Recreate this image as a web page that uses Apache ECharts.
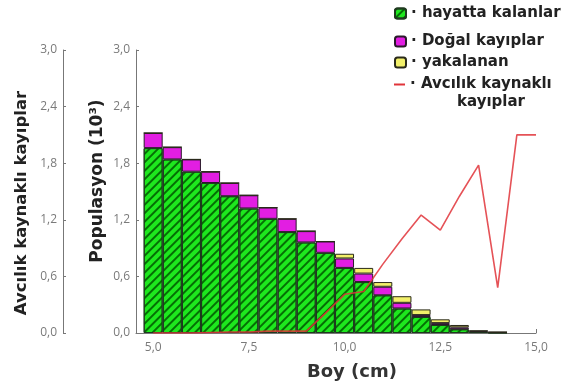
<!DOCTYPE html>
<html><head><meta charset="utf-8">
<script src="https://cdn.jsdelivr.net/npm/echarts@6/dist/echarts.min.js"></script>
<style>html,body{margin:0;padding:0;background:#fff}#c{width:571px;height:389px}</style>
</head><body><div id="c"></div>
<script>
// Bar categories (Boy, cm) and stacked population values (10^3)
const boyBars = ['5.0','5.5','6.0','6.5','7.0','7.5','8.0','8.5','9.0','9.5','10.0','10.5','11.0','11.5','12.0','12.5','13.0','13.5','14.0'];
const hayattaKalanlar = [1.96,1.84,1.71,1.59,1.45,1.32,1.21,1.07,0.96,0.85,0.69,0.54,0.40,0.26,0.17,0.085,0.04,0.01,0.004];
const dogalKayiplar   = [0.16,0.13,0.13,0.12,0.14,0.14,0.12,0.14,0.12,0.12,0.10,0.09,0.09,0.06,0.02,0.02,0.02,0.01,0.004];
const yakalananVals   = [0,0,0,0,0,0,0,0,0,0,0.05,0.06,0.05,0.07,0.06,0.04,0.025,0.005,0.002];
// Line: Avcılık kaynaklı kayıplar
const boyLine = [5.0,5.5,6.0,6.5,7.0,7.5,8.0,8.5,9.0,9.5,10.0,10.5,11.0,11.5,12.0,12.5,13.0,13.5,14.0,14.5,15.0];
const avcilikKayiplar = [0,0,0,0.005,0.01,0.01,0.02,0.02,0.02,0.21,0.41,0.44,0.73,1.00,1.25,1.09,1.45,1.78,0.48,2.10,2.10];
// Tick labels
const xTickValues = [5.0, 7.5, 10.0, 12.5, 15.0];
const yTickValues = [0.0, 0.6, 1.2, 1.8, 2.4, 3.0];

const names = ['hayatta kalanlar','Doğal kayıplar','yakalanan','Avcılık kaynaklı'];
const comma = v => Number(v).toFixed(1).replace('.', ',');
const pair = (xs, ys) => xs.map((x,i)=>[x, ys[i]]);
const tickFont = {color:'#7a7a7a', fontSize:12, fontFamily:'Open Sans'};
const legText = {color:'#222', fontSize:15, fontWeight:'bold', fontFamily:'DejaVu Sans'};
const RED = '#e0343a';

const chart = echarts.init(document.getElementById('c'), null, {renderer:'canvas'});
const yAxisBase = {
  type:'value', min:0, max:3, position:'left', gridIndex:0,
  axisLine:{show:true, lineStyle:{color:'#777', width:1}},
  axisTick:{show:true, inside:true, length:3, lineStyle:{color:'#777'}, customValues: yTickValues},
  axisLabel:{...tickFont, formatter: comma, margin:6, customValues: yTickValues},
  splitLine:{show:false}
};
const legendItem = (name, top, extra) => Object.assign({
  data:[name], left:394, top:top, orient:'vertical', itemWidth:11, itemHeight:10, itemGap:0,
  selectedMode:false, textStyle:legText, formatter: n => '· ' + n, padding:0
}, extra || {});
chart.setOption({
  animation:false,
  grid:[
    {left:136, right:35, top:50, bottom:56},
    {left:143.6, right:63.8, top:50, bottom:56}
  ],
  xAxis:[
    {
      type:'value', min:4.55, max:15, gridIndex:0,
      axisLine:{show:true, lineStyle:{color:'#777'}},
      axisTick:{show:true, inside:true, length:4, customValues:[15], lineStyle:{color:'#777'}},
      axisLabel:{...tickFont, formatter: comma, margin:9, customValues: xTickValues},
      splitLine:{show:false}
    },
    {type:'category', gridIndex:1, data:boyBars, show:false, boundaryGap:true}
  ],
  yAxis:[
    {...yAxisBase, offset:73},
    {...yAxisBase, offset:0},
    {type:'value', gridIndex:1, min:0, max:3, show:false}
  ],
  legend:[
    legendItem(names[0], 6),
    legendItem(names[1], 34),
    legendItem(names[2], 55),
    legendItem(names[3], 77, {itemHeight:2, icon:'rect', data:[{name:names[3], icon:'rect', itemStyle:{color:RED}}]})
  ],
  graphic:[
    {type:'text', left:457, top:95, style:{text:'kayıplar', fontSize:15, fontWeight:'bold', fontFamily:'DejaVu Sans', fill:'#222'}},
    {type:'text', x:22, y:203, rotation:Math.PI/2, style:{text:'Avcılık kaynaklı kayıplar', fontSize:16.5, fontWeight:'bold', fontFamily:'DejaVu Sans', fill:'#222', align:'center', verticalAlign:'middle'}},
    {type:'text', x:98, y:181, rotation:Math.PI/2, style:{text:'Populasyon (10³)', fontSize:17, fontWeight:'bold', fontFamily:'DejaVu Sans', fill:'#222', align:'center', verticalAlign:'middle'}},
    {type:'text', x:352, y:372, style:{text:'Boy (cm)', fontSize:18, fontWeight:'bold', fontFamily:'DejaVu Sans', fill:'#333', align:'center', verticalAlign:'middle'}}
  ],
  series:[
    {name:names[0], type:'bar', stack:'pop', xAxisIndex:1, yAxisIndex:2, barWidth:19, data:hayattaKalanlar,
     itemStyle:{color:'#1ee81e', borderColor:'#1f3a1f', borderWidth:1,
       decal:{symbol:'rect', symbolSize:1, dashArrayX:[1,0], dashArrayY:[1.3,3.7], rotation:-Math.PI/4, color:'rgba(0,90,0,0.85)'}}},
    {name:names[1], type:'bar', stack:'pop', xAxisIndex:1, yAxisIndex:2, barWidth:19, data:dogalKayiplar,
     itemStyle:{color:'#e21ee2', borderColor:'#2a1a2a', borderWidth:1}},
    {name:names[2], type:'bar', stack:'pop', xAxisIndex:1, yAxisIndex:2, barWidth:19, data:yakalananVals,
     itemStyle:{color:'#f2f06a', borderColor:'#2a2a1a', borderWidth:1}},
    {name:names[3], type:'line', xAxisIndex:0, yAxisIndex:0, data:pair(boyLine, avcilikKayiplar), symbol:'none', z:5,
     lineStyle:{color:RED, width:1.6, opacity:0.85}, itemStyle:{color:RED}}
  ]
});
</script></body></html>
